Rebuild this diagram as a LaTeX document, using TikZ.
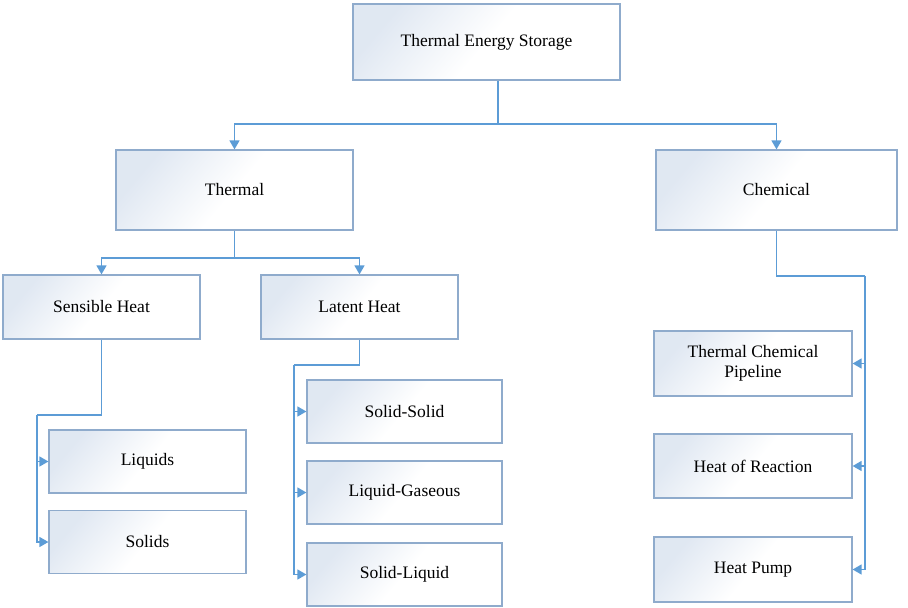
\documentclass[tikz,border=0pt]{standalone}
\usepackage{fontspec}
\setmainfont{Liberation Serif}
\usetikzlibrary{arrows.meta}

\newlength{\du}
\setlength{\du}{1pt}

\definecolor{boxline}{rgb}{0.560000, 0.670000, 0.800000}
\definecolor{boxshade}{rgb}{0.880000, 0.910000, 0.950000}
\definecolor{linkline}{rgb}{0.360000, 0.610000, 0.840000}

\tikzset{
  tesbox/.style={draw=boxline, line width=1.2\du, top color=boxshade, bottom color=white,
    middle color=white, shading angle=50, inner sep=0pt, align=center,
    font=\fontsize{17.5}{20}\selectfont},
  link/.style={draw=linkline, line width=1.4\du},
  linkarrow/.style={link, -{Triangle[length=9pt,width=10pt]}},
}

\begin{document}
\begin{tikzpicture}
\pgftransformxscale{1.000000}
\pgftransformyscale{-1.000000}
\useasboundingbox (0\du,0\du) rectangle (908\du,608\du);
% boxes
\node[tesbox, minimum width=267\du, minimum height=76\du] (tes) at (486.5\du,42\du) {Thermal Energy Storage};
\node[tesbox, minimum width=237\du, minimum height=80\du] (thermal) at (234.5\du,190\du) {Thermal};
\node[tesbox, minimum width=241\du, minimum height=80\du] (chemical) at (776.5\du,190\du) {Chemical};
\node[tesbox, minimum width=197\du, minimum height=64\du] (sensible) at (101.5\du,307\du) {Sensible Heat};
\node[tesbox, minimum width=197\du, minimum height=64\du] (latent) at (359.5\du,307\du) {Latent Heat};
\node[tesbox, minimum width=197\du, minimum height=63\du] (liquids) at (147.5\du,461.5\du) {Liquids};
\node[tesbox, minimum width=197\du, minimum height=63\du] (solids) at (147.5\du,542\du) {Solids};
\node[tesbox, minimum width=195\du, minimum height=63\du] (solidsolid) at (404.5\du,411.5\du) {Solid-Solid};
\node[tesbox, minimum width=195\du, minimum height=63\du] (liquidgas) at (404.5\du,492.5\du) {Liquid-Gaseous};
\node[tesbox, minimum width=195\du, minimum height=63\du] (solidliquid) at (404.5\du,574.5\du) {Solid-Liquid};
\node[tesbox, minimum width=198\du, minimum height=65\du] (pipeline) at (753\du,363.5\du) {Thermal Chemical\\Pipeline};
\node[tesbox, minimum width=198\du, minimum height=64\du] (reaction) at (753\du,466\du) {Heat of Reaction};
\node[tesbox, minimum width=198\du, minimum height=65\du] (heatpump) at (753\du,569.5\du) {Heat Pump};
% bends
\coordinate (tesbus) at (498\du,124\du);
\coordinate (thermalbus) at (234.5\du,258\du);
\coordinate (sensiblebend) at (37\du,415\du);
\coordinate (latentbend) at (294\du,365\du);
\coordinate (chemicalbend) at (865\du,276\du);
% links
\draw[link] (tes.south -| tesbus) -- (tesbus);
\draw[linkarrow] (tesbus) -| (thermal.north);
\draw[linkarrow] (tesbus) -| (chemical.north);
\draw[link] (thermal.south) -- (thermalbus);
\draw[linkarrow] (thermalbus) -| (sensible.north);
\draw[linkarrow] (thermalbus) -| (latent.north);
\draw[link] (sensible.south) |- (sensiblebend);
\draw[linkarrow] (sensiblebend) |- (liquids.west);
\draw[linkarrow] (sensiblebend) |- (solids.west);
\draw[link] (latent.south) |- (latentbend);
\draw[linkarrow] (latentbend) |- (solidsolid.west);
\draw[linkarrow] (latentbend) |- (liquidgas.west);
\draw[linkarrow] (latentbend) |- (solidliquid.west);
\draw[link] (chemical.south) |- (chemicalbend);
\draw[linkarrow] (chemicalbend) |- (pipeline.east);
\draw[linkarrow] (chemicalbend) |- (reaction.east);
\draw[linkarrow] (chemicalbend) |- (heatpump.east);
\end{tikzpicture}
\end{document}
